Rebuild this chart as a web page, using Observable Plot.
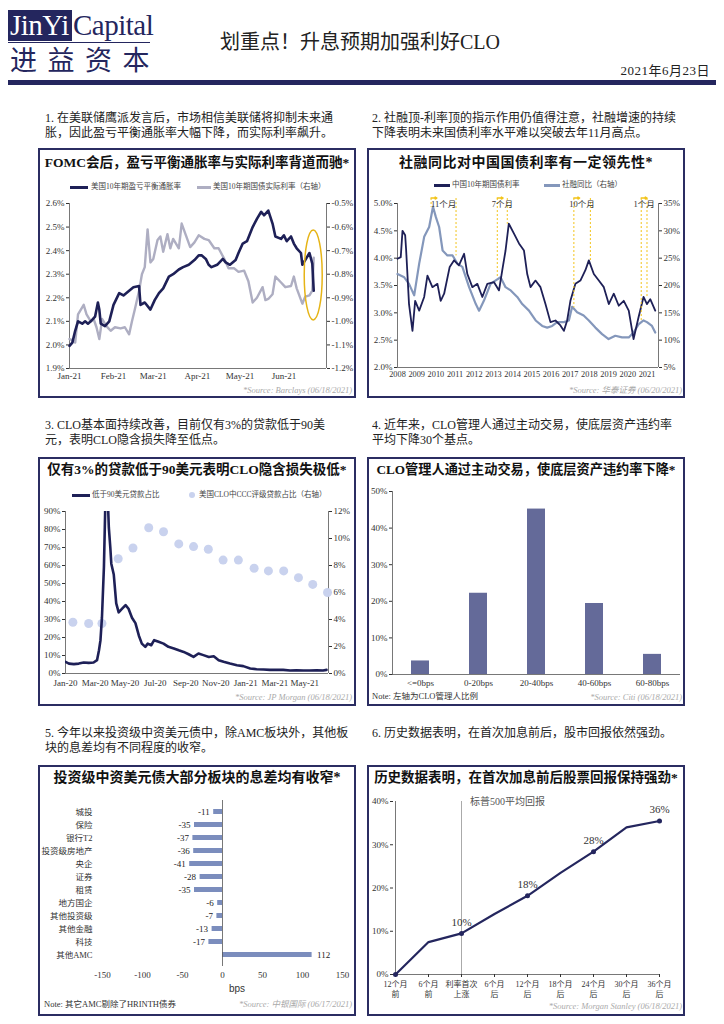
<!DOCTYPE html>
<html><head><meta charset="utf-8">
<script src="https://cdn.jsdelivr.net/npm/d3@7"></script>
<script src="https://cdn.jsdelivr.net/npm/@observablehq/plot@0.6"></script>
<style>
body{margin:0;background:#fff;}
#page{position:relative;width:724px;height:1024px;overflow:hidden;background:#fff;font-family:"Liberation Serif","Noto Sans CJK SC",serif;color:#222;}
.abs{position:absolute;white-space:nowrap;}
.box{position:absolute;border:2px solid #2b2d62;box-sizing:border-box;}
.ptitle{position:absolute;font-weight:700;font-size:13.5px;line-height:18px;text-align:center;white-space:nowrap;color:#111;}
.leg{position:absolute;font-size:7.5px;line-height:10px;color:#444;white-space:nowrap;}
.src{position:absolute;font-style:italic;font-size:8.5px;line-height:10px;color:#aaa;white-space:nowrap;text-align:right;}
.note{position:absolute;font-size:8.5px;line-height:10px;color:#333;white-space:nowrap;}
.para{position:absolute;font-size:12px;line-height:15px;color:#222;}
.para div{white-space:nowrap;}
</style></head>
<body><div id="page"></div>
<script>
// ---------------- DATA ----------------
// Panel 1: US 10Y breakeven (left) and 10Y real yield (right)
const p1BeDates=["2021-01-01","2021-01-03","2021-01-05","2021-01-07","2021-01-10","2021-01-12","2021-01-14","2021-01-16","2021-01-19","2021-01-21","2021-01-22","2021-01-23","2021-01-26","2021-01-29","2021-02-01","2021-02-05","2021-02-08","2021-02-12","2021-02-15","2021-02-19","2021-02-20","2021-02-23","2021-02-27","2021-03-02","2021-03-05","2021-03-08","2021-03-12","2021-03-15","2021-03-19","2021-03-22","2021-03-26","2021-03-30","2021-04-02","2021-04-04","2021-04-07","2021-04-09","2021-04-11","2021-04-15","2021-04-19","2021-04-21","2021-04-24","2021-04-28","2021-04-30","2021-05-03","2021-05-06","2021-05-10","2021-05-13","2021-05-16","2021-05-18","2021-05-21","2021-05-24","2021-05-26","2021-05-30","2021-06-01","2021-06-03","2021-06-06","2021-06-08","2021-06-10","2021-06-13","2021-06-14","2021-06-16","2021-06-19","2021-06-21","2021-06-22"];
const p1BeValues=[1.996,2.01,2.06,2.10,2.09,2.10,2.09,2.10,2.12,2.18,2.15,2.09,2.08,2.10,2.17,2.22,2.21,2.23,2.245,2.25,2.17,2.18,2.15,2.19,2.22,2.24,2.29,2.30,2.32,2.33,2.34,2.36,2.38,2.38,2.365,2.34,2.33,2.34,2.365,2.35,2.34,2.36,2.39,2.43,2.44,2.50,2.535,2.565,2.55,2.57,2.515,2.46,2.45,2.465,2.44,2.46,2.43,2.41,2.39,2.34,2.36,2.39,2.345,2.23];
const p1RrDates=["2021-01-01","2021-01-03","2021-01-05","2021-01-07","2021-01-11","2021-01-13","2021-01-16","2021-01-18","2021-01-20","2021-01-22","2021-01-24","2021-01-27","2021-01-30","2021-02-02","2021-02-06","2021-02-09","2021-02-12","2021-02-14","2021-02-16","2021-02-19","2021-02-21","2021-02-23","2021-02-25","2021-02-27","2021-03-01","2021-03-04","2021-03-06","2021-03-08","2021-03-11","2021-03-13","2021-03-15","2021-03-19","2021-03-21","2021-03-24","2021-03-27","2021-03-30","2021-04-02","2021-04-06","2021-04-09","2021-04-13","2021-04-16","2021-04-20","2021-04-23","2021-04-27","2021-04-30","2021-05-04","2021-05-07","2021-05-10","2021-05-13","2021-05-17","2021-05-19","2021-05-21","2021-05-24","2021-05-26","2021-05-30","2021-06-02","2021-06-06","2021-06-08","2021-06-10","2021-06-14","2021-06-16","2021-06-19","2021-06-21","2021-06-22"];
const p1RrValues=[-1.075,-1.08,-1.09,-0.97,-0.93,-0.97,-1.00,-0.99,-1.025,-1.075,-0.99,-1.02,-1.04,-1.025,-1.03,-1.025,-1.055,-1.00,-0.95,-0.87,-0.80,-0.77,-0.61,-0.75,-0.735,-0.655,-0.64,-0.705,-0.63,-0.69,-0.65,-0.69,-0.585,-0.635,-0.685,-0.665,-0.635,-0.65,-0.655,-0.69,-0.69,-0.735,-0.775,-0.775,-0.79,-0.785,-0.83,-0.92,-0.90,-0.855,-0.91,-0.905,-0.885,-0.81,-0.835,-0.855,-0.85,-0.81,-0.86,-0.925,-0.895,-0.89,-0.87,-0.73];
const p1XDomain=["2021-01-01","2021-07-01"];
const p1XTicks=["2021-01-01","2021-02-01","2021-03-01","2021-04-01","2021-05-01","2021-06-01"];
const p1LeftTicks=[1.9,2.0,2.1,2.2,2.3,2.4,2.5,2.6];
const p1RightTicks=[-1.2,-1.1,-1.0,-0.9,-0.8,-0.7,-0.6,-0.5];
const p1Highlight={date:"2021-06-22",value:2.295};

// Panel 2: China 10Y yield (left) and TSF yoy (right)
const p2YieldX=[2008.0,2008.17,2008.26,2008.4,2008.45,2008.6,2008.78,2008.92,2009.13,2009.39,2009.56,2009.82,2010.08,2010.25,2010.43,2010.72,2010.95,2011.2,2011.47,2011.64,2011.9,2012.16,2012.42,2012.68,2013.03,2013.29,2013.46,2013.63,2013.8,2014.07,2014.33,2014.59,2014.76,2014.93,2015.19,2015.45,2015.71,2015.97,2016.23,2016.49,2016.67,2016.84,2017.01,2017.27,2017.53,2017.79,2017.97,2018.23,2018.49,2018.75,2019.01,2019.27,2019.53,2019.79,2020.05,2020.3,2020.56,2020.82,2021.0,2021.17,2021.43];
const p2YieldY=[3.99,4.02,4.5,4.42,4.15,3.16,2.67,3.22,3.04,3.29,3.68,3.47,3.53,3.22,3.35,3.84,3.96,3.87,4.08,3.71,3.47,3.53,3.29,3.53,3.56,3.41,3.78,4.14,4.63,4.45,4.27,4.14,3.71,3.47,3.59,3.47,3.16,2.83,2.86,2.77,2.67,2.86,3.22,3.53,3.59,3.78,3.96,3.71,3.59,3.47,3.16,3.35,3.13,3.22,3.04,2.52,2.92,3.29,3.16,3.25,3.04];
const p2SfX=[2008.0,2008.35,2008.6,2008.87,2009.13,2009.39,2009.65,2009.85,2010.0,2010.17,2010.35,2010.6,2010.87,2011.12,2011.38,2011.73,2012.08,2012.25,2012.5,2012.85,2013.1,2013.37,2013.63,2013.9,2014.24,2014.5,2014.85,2015.2,2015.54,2015.8,2016.06,2016.32,2016.67,2016.93,2017.1,2017.36,2017.7,2017.97,2018.31,2018.66,2019.0,2019.35,2019.7,2020.05,2020.3,2020.56,2020.82,2021.0,2021.26,2021.43];
const p2SfY=[22.1,21.5,20.3,18.2,24,28.9,30.7,34.4,32.5,30.7,26.4,25.5,25.5,24,23.4,19.7,16.6,15.4,17.2,20.3,20.9,21.5,19.7,19.1,17.9,16.6,15.4,13.6,12.6,12.3,12.6,13.3,13.3,13.6,16.1,15.1,14.5,13.6,12.3,11.1,10.2,10.8,10.5,10.5,11.4,12.9,13.6,13.3,12.6,11.4];
const p2XDomain=[2008,2021.6];
const p2XTicks=[2008,2009,2010,2011,2012,2013,2014,2015,2016,2017,2018,2019,2020,2021];
const p2LeftTicks=[2.0,2.5,3.0,3.5,4.0,4.5,5.0];
const p2RightTicks=[5,10,15,20,25,30,35];
const p2AnnStart=[2009.75,2013.2,2017.19,2020.7];
const p2AnnEnd=[2011.05,2013.72,2018.05,2021.0];
const p2AnnStartLow=[4.94,3.65,3.10,2.86];
const p2AnnEndLow=[4.05,4.63,3.96,3.29];
const p2AnnLabel=["11个月","7个月","10个月","1个月"];
const p2AnnTop=5.1;
const p2AnnLabelY=4.98;

// Panel 3: share of loans below $90 (left) and CCC share (right)
const p3LineDates=["2020-01-01","2020-01-08","2020-01-18","2020-01-28","2020-02-07","2020-02-17","2020-02-27","2020-03-05","2020-03-09","2020-03-12","2020-03-15","2020-03-19","2020-03-22","2020-03-27","2020-03-29","2020-04-01","2020-04-03","2020-04-08","2020-04-13","2020-04-18","2020-04-25","2020-05-02","2020-05-08","2020-05-15","2020-05-22","2020-05-29","2020-06-04","2020-06-11","2020-06-16","2020-06-23","2020-06-29","2020-07-08","2020-07-18","2020-07-28","2020-08-08","2020-08-18","2020-08-28","2020-09-07","2020-09-17","2020-09-27","2020-10-07","2020-10-18","2020-10-28","2020-11-07","2020-11-17","2020-11-30","2020-12-14","2020-12-27","2021-01-10","2021-01-23","2021-02-06","2021-02-19","2021-03-05","2021-03-18","2021-04-01","2021-04-14","2021-04-28","2021-05-11","2021-05-25","2021-06-07","2021-06-14"];
const p3LineValues=[6.5,5.5,5.2,5.5,6.1,5.9,6.1,7.4,12.9,18.5,31,59,96,96,81,70,61,55,39,34,36,38,36,31,28,21,16.6,14.8,16.6,15.7,18.5,17.6,16.6,14.8,13.9,12.9,12.0,10.7,9.2,11.1,10.2,9.2,9.6,7.4,6.5,5.5,4.6,4.1,2.8,2.4,2.2,2.0,2.0,2.0,1.7,1.8,1.7,1.7,1.8,1.7,2.0];
const p3DotDates=["2020-01-16","2020-02-17","2020-03-15","2020-04-17","2020-05-17","2020-06-18","2020-07-18","2020-08-18","2020-09-17","2020-10-17","2020-11-16","2020-12-17","2021-01-18","2021-02-16","2021-03-19","2021-04-18","2021-05-17","2021-06-16"];
const p3DotValues=[3.8,3.7,3.7,8.5,9.3,10.8,10.5,9.6,9.4,9.2,8.4,8.4,7.8,7.6,7.6,7.1,6.6,6.0];
const p3XDomain=["2020-01-01","2021-06-18"];
const p3XTicks=["2020-01-01","2020-03-01","2020-05-01","2020-07-01","2020-09-01","2020-11-01","2021-01-01","2021-03-01","2021-05-01"];
const p3LeftTicks=[0,10,20,30,40,50,60,70,80,90];
const p3RightTicks=[0,2,4,6,8,10,12];

// Panel 4: distribution of CLO managers by default-rate reduction
const p4Cats=["<=0bps","0-20bps","20-40bps","40-60bps","60-80bps"];
const p4Values=[3.7,22.2,45.2,19.4,5.5];
const p4YTicks=[0,10,20,30,40,50];

// Panel 5: spread change by sector (bps)
const p5Cats=["城投","保险","银行T2","投资级房地产","央企","证券","租赁","地方国企","其他投资级","其他金融","科技","其他AMC"];
const p5Values=[-11,-35,-37,-36,-41,-28,-35,-6,-7,-13,-17,112];
const p5XTicks=[-150,-100,-50,0,50,100,150];

// Panel 6: S&P 500 average return around first hike
const p6Cats=["12个月\n前","6个月\n前","利率首次\n上涨","6个月\n后","12个月\n后","18个月\n后","24个月\n后","30个月\n后","36个月\n后"];
const p6Values=[0,7.5,9.5,14,18.2,23.5,28.4,34,35.5];
const p6Labels=["","","10%","","18%","","28%","","36%"];
const p6Marked=[true,false,true,false,true,false,true,false,true];
const p6YTicks=[0,10,20,30,40];
const p6HikeCat=p6Cats[2];

// ---------------- STYLE ----------------
const NAVY="#1e2057", GRAY="#aeaec2", SFBLUE="#8497bb", DOTC="#c9d2ee", BAR4="#646a99", BAR5="#7b8dbd", GOLD="#e6b416", YEL="#f2c318";
const SERIF='"Liberation Serif","Noto Sans CJK SC",serif';
const AX="#555";
const page=document.getElementById("page");
function add(html){page.insertAdjacentHTML("beforeend",html);}
function place(svg,left,top){svg.style.position="absolute";svg.style.left=left+"px";svg.style.top=top+"px";svg.style.overflow="visible";page.appendChild(svg);}
const baseStyle={fontFamily:SERIF,fontSize:"9px",color:"#333",background:"none",overflow:"visible"};
const pct1=d=>(Math.round(d*10)/10).toFixed(1)+"%";
const pct0=d=>Math.round(d)+"%";

// ---------------- HEADER ----------------
add(`<div class="abs" style="left:8px;top:10px;width:64px;height:31px;background:#24265e;"></div>
<div class="abs" style="left:10px;top:8px;font-size:29px;line-height:34px;color:#fff;font-family:'Liberation Serif';letter-spacing:-0.5px;">JinYi</div>
<div class="abs" style="left:73px;top:8px;font-size:29px;line-height:34px;color:#24265e;font-family:'Liberation Serif';letter-spacing:-0.5px;">Capital</div>
<div class="abs" style="left:8px;top:42px;width:142px;height:1px;background:#24265e;"></div>
<div class="abs" style="left:10px;top:43px;font-size:27px;line-height:32px;color:#24265e;letter-spacing:10.5px;font-family:'Noto Sans CJK SC';">进益资本</div>
<div class="abs" style="left:160px;width:400px;top:30px;text-align:center;font-size:20px;line-height:24px;color:#222;">划重点！升息预期加强利好CLO</div>
<div class="abs" style="right:14px;top:63px;font-size:13px;line-height:16px;color:#222;letter-spacing:0.5px;">2021年6月23日</div>
<div class="abs" style="left:8px;top:80px;width:708px;height:5px;background:#24265e;"></div>`);

// ---------------- PARAGRAPHS ----------------
add(`<div class="para" style="left:45px;top:111px;"><div>1. 在美联储鹰派发言后，市场相信美联储将抑制未来通</div><div>胀，因此盈亏平衡通胀率大幅下降，而实际利率飙升。</div></div>
<div class="para" style="left:372px;top:111px;"><div>2. 社融顶-利率顶的指示作用仍值得注意，社融增速的持续</div><div>下降表明未来国债利率水平难以突破去年11月高点。</div></div>
<div class="para" style="left:45px;top:418px;"><div>3. CLO基本面持续改善，目前仅有3%的贷款低于90美</div><div>元，表明CLO隐含损失降至低点。</div></div>
<div class="para" style="left:372px;top:418px;"><div>4. 近年来，CLO管理人通过主动交易，使底层资产违约率</div><div>平均下降30个基点。</div></div>
<div class="para" style="left:45px;top:726px;"><div>5. 今年以来投资级中资美元债中，除AMC板块外，其他板</div><div>块的息差均有不同程度的收窄。</div></div>
<div class="para" style="left:372px;top:726px;"><div>6. 历史数据表明，在首次加息前后，股市回报依然强劲。</div></div>`);

// ---------------- BOXES, TITLES, LEGENDS, SOURCES ----------------
add(`<div class="box" style="left:38px;top:148px;width:318px;height:250px;"></div>
<div class="box" style="left:367px;top:148px;width:318px;height:250px;"></div>
<div class="box" style="left:38px;top:457px;width:318px;height:249px;"></div>
<div class="box" style="left:367px;top:457px;width:318px;height:249px;"></div>
<div class="box" style="left:38px;top:765px;width:318px;height:251px;"></div>
<div class="box" style="left:367px;top:765px;width:318px;height:251px;"></div>

<div class="ptitle" style="left:38px;width:318px;top:154px;">FOMC会后，盈亏平衡通胀率与实际利率背道而驰*</div>
<div class="ptitle" style="left:367px;width:318px;top:154px;font-size:14px;letter-spacing:0.5px;">社融同比对中国国债利率有一定领先性*</div>
<div class="ptitle" style="left:38px;width:318px;top:461px;">仅有3%的贷款低于90美元表明CLO隐含损失极低*</div>
<div class="ptitle" style="left:367px;width:318px;top:461px;font-size:13.2px;">CLO管理人通过主动交易，使底层资产违约率下降*</div>
<div class="ptitle" style="left:38px;width:318px;top:769px;font-size:14px;">投资级中资美元债大部分板块的息差均有收窄*</div>
<div class="ptitle" style="left:367px;width:318px;top:769px;">历史数据表明，在首次加息前后股票回报保持强劲*</div>

<div class="abs" style="left:70px;top:186px;width:18px;height:3px;background:${NAVY};"></div>
<div class="leg" style="left:91px;top:182px;">美国10年期盈亏平衡通胀率</div>
<div class="abs" style="left:197px;top:186px;width:14px;height:3px;background:${GRAY};"></div>
<div class="leg" style="left:213px;top:182px;">美国10年期国债实际利率（右轴）</div>

<div class="abs" style="left:434px;top:184px;width:16px;height:3px;background:${NAVY};"></div>
<div class="leg" style="left:452px;top:180px;">中国10年期国债利率</div>
<div class="abs" style="left:544px;top:184px;width:16px;height:3px;background:${SFBLUE};"></div>
<div class="leg" style="left:562px;top:180px;">社融同比（右轴）</div>

<div class="abs" style="left:72px;top:494px;width:18px;height:3px;background:${NAVY};"></div>
<div class="leg" style="left:92px;top:490px;">低于90美元贷款占比</div>
<div class="abs" style="left:189px;top:492px;width:6px;height:6px;border-radius:3px;background:${DOTC};"></div>
<div class="leg" style="left:199px;top:490px;">美国CLO中CCC评级贷款占比（右轴）</div>

<div class="abs" style="left:470px;top:796px;font-size:10px;line-height:12px;color:#555;">标普500平均回报</div>
<div class="abs" style="left:229px;top:983px;font-size:10px;line-height:12px;color:#333;font-family:'Liberation Sans';">bps</div>

<div class="src" style="right:372px;top:385px;">*Source: Barclays (06/18/2021)</div>
<div class="src" style="right:42px;top:385px;">*Source: 华泰证券 (06/20/2021)</div>
<div class="src" style="right:372px;top:692px;">*Source: JP Morgan (06/18/2021)</div>
<div class="src" style="right:42px;top:692px;">*Source: Citi (06/18/2021)</div>
<div class="note" style="left:372px;top:691px;">Note: 左轴为CLO管理人比例</div>
<div class="src" style="right:372px;top:999px;">*Source: 中银国际 (06/17/2021)</div>
<div class="note" style="left:44px;top:999px;">Note: 其它AMC剔除了HRINTH债券</div>
<div class="src" style="right:42px;top:1001px;">*Source: Morgan Stanley (06/18/2021)</div>`);

// ---------------- PANEL 1 ----------------
{
  const be=p1BeDates.map((d,i)=>({date:new Date(d),v:p1BeValues[i]}));
  const rr=p1RrDates.map((d,i)=>({date:new Date(d),v:p1RrValues[i]}));
  const off=p1LeftTicks[0]-p1RightTicks[0];
  const toL=v=>v+off;
  const dom=p1XDomain.map(d=>new Date(d));
  const svg=Plot.plot({
    width:313,height:190,marginLeft:29,marginRight:27,marginTop:8,marginBottom:17,
    style:baseStyle,
    x:{type:"utc",domain:dom},
    y:{domain:[p1LeftTicks[0],p1LeftTicks[p1LeftTicks.length-1]]},
    marks:[
      Plot.ruleX(dom,{stroke:AX,strokeWidth:0.8}),
      Plot.ruleY([p1LeftTicks[0]],{stroke:AX,strokeWidth:0.8}),
      Plot.axisX({ticks:p1XTicks.map(d=>new Date(d)),tickFormat:d3.utcFormat("%b-%y"),tickSize:0,tickPadding:4,label:null}),
      Plot.axisY({ticks:p1LeftTicks,tickFormat:pct1,tickSize:3,tickPadding:2,label:null}),
      Plot.axisY({anchor:"right",ticks:p1RightTicks.map(toL),tickFormat:v=>pct1(v-off),tickSize:3,tickPadding:2,label:null}),
      Plot.line(rr,{x:"date",y:d=>toL(d.v),stroke:GRAY,strokeWidth:2.4}),
      Plot.line(be,{x:"date",y:"v",stroke:NAVY,strokeWidth:2.6}),
      (index,scales)=>{
        const e=document.createElementNS("http://www.w3.org/2000/svg","ellipse");
        e.setAttribute("cx",scales.x(new Date(p1Highlight.date)));
        e.setAttribute("cy",scales.y(p1Highlight.value));
        e.setAttribute("rx",9);e.setAttribute("ry",45);
        e.setAttribute("fill","none");e.setAttribute("stroke",GOLD);e.setAttribute("stroke-width",1.5);
        return e;
      }
    ]
  });
  place(svg,40,195);
}

// ---------------- PANEL 2 ----------------
{
  const yld=p2YieldX.map((x,i)=>({x,v:p2YieldY[i]}));
  const sf=p2SfX.map((x,i)=>({x,v:p2SfY[i]}));
  const l0=p2LeftTicks[0],l1=p2LeftTicks[p2LeftTicks.length-1],r0=p2RightTicks[0],r1=p2RightTicks[p2RightTicks.length-1];
  const toL=v=>l0+(v-r0)*(l1-l0)/(r1-r0);
  const toR=v=>r0+(v-l0)*(r1-r0)/(l1-l0);
  const ann=p2AnnStart.map((s,i)=>({s,e:p2AnnEnd[i],sl:p2AnnStartLow[i],el:p2AnnEndLow[i],label:p2AnnLabel[i]}));
  const svg=Plot.plot({
    width:314,height:190,marginLeft:28,marginRight:25,marginTop:8,marginBottom:18,
    style:baseStyle,
    x:{domain:p2XDomain},
    y:{domain:[l0,l1]},
    marks:[
      Plot.ruleX(p2XDomain,{stroke:AX,strokeWidth:0.8}),
      Plot.ruleY([l0],{stroke:AX,strokeWidth:0.8}),
      Plot.axisX({ticks:p2XTicks,tickFormat:d=>String(d),tickSize:0,tickPadding:4,fontSize:8.3,label:null}),
      Plot.axisY({ticks:p2LeftTicks,tickFormat:pct1,tickSize:3,tickPadding:2,label:null}),
      Plot.axisY({anchor:"right",ticks:p2RightTicks.map(toL),tickFormat:v=>pct0(toR(v)),tickSize:3,tickPadding:2,label:null}),
      Plot.line(sf,{x:"x",y:d=>toL(d.v),stroke:SFBLUE,strokeWidth:2.2}),
      Plot.line(yld,{x:"x",y:"v",stroke:NAVY,strokeWidth:1.8}),
      Plot.link(ann,{x1:"s",x2:"s",y1:p2AnnTop,y2:"sl",stroke:YEL,strokeWidth:1,strokeDasharray:"2,2"}),
      Plot.link(ann,{x1:"e",x2:"e",y1:p2AnnTop,y2:"el",stroke:YEL,strokeWidth:1,strokeDasharray:"2,2"}),
      Plot.arrow(ann,{x1:"s",x2:d=>d.s+0.3,y1:p2AnnTop,y2:p2AnnTop,stroke:YEL,strokeWidth:1.5,headLength:5}),
      Plot.text(ann,{x:d=>(d.s+d.e)/2,y:p2AnnLabelY,text:"label",fontSize:8.5,fill:"#333"})
    ]
  });
  place(svg,369,195);
}

// ---------------- PANEL 3 ----------------
{
  const ln=p3LineDates.map((d,i)=>({date:new Date(d),v:p3LineValues[i]}));
  const dots=p3DotDates.map((d,i)=>({date:new Date(d),v:p3DotValues[i]}));
  const l1=p3LeftTicks[p3LeftTicks.length-1], r1=p3RightTicks[p3RightTicks.length-1];
  const toL=v=>v*l1/r1, toR=v=>v*r1/l1;
  const dom=p3XDomain.map(d=>new Date(d));
  const svg=Plot.plot({
    width:313,height:185,marginLeft:25,marginRight:25,marginTop:6,marginBottom:17,
    style:baseStyle,
    x:{type:"utc",domain:dom},
    y:{domain:[0,l1]},
    marks:[
      Plot.ruleX(dom,{stroke:AX,strokeWidth:0.8}),
      Plot.ruleY([0],{stroke:AX,strokeWidth:0.8}),
      Plot.axisX({ticks:p3XTicks.map(d=>new Date(d)),tickFormat:d3.utcFormat("%b-%y"),tickSize:0,tickPadding:6,label:null}),
      Plot.axisY({ticks:p3LeftTicks,tickFormat:pct0,tickSize:3,tickPadding:2,label:null}),
      Plot.axisY({anchor:"right",ticks:p3RightTicks.map(toL),tickFormat:v=>pct0(toR(v)),tickSize:3,tickPadding:2,label:null}),
      Plot.dot(dots,{x:"date",y:d=>toL(d.v),r:4.5,fill:DOTC,stroke:"none"}),
      Plot.line(ln,{x:"date",y:"v",stroke:NAVY,strokeWidth:2.6,clip:true})
    ]
  });
  place(svg,40,505);
}

// ---------------- PANEL 4 ----------------
{
  const data=p4Cats.map((c,i)=>({c,v:p4Values[i]}));
  const svg=Plot.plot({
    width:314,height:207,marginLeft:23,marginRight:3,marginTop:8,marginBottom:16,
    style:baseStyle,
    x:{domain:p4Cats,paddingInner:0.69,paddingOuter:0.31},
    y:{domain:[0,p4YTicks[p4YTicks.length-1]]},
    marks:[
      Plot.barY(data,{x:"c",y:"v",fill:BAR4}),
      Plot.ruleY([0],{stroke:AX,strokeWidth:0.8}),
      Plot.axisY({ticks:p4YTicks,tickFormat:pct0,tickSize:3,tickPadding:2,label:null}),
      Plot.axisX({tickSize:0,tickPadding:5,label:null}),
      Plot.frame({anchor:"left",stroke:AX,strokeWidth:0.8})
    ]
  });
  place(svg,369,483);
}

// ---------------- PANEL 5 ----------------
{
  const data=p5Cats.map((c,i)=>({c,v:p5Values[i]}));
  const svg=Plot.plot({
    width:313,height:200,marginLeft:62,marginRight:11,marginTop:5,marginBottom:29,
    style:baseStyle,
    x:{domain:[p5XTicks[0],p5XTicks[p5XTicks.length-1]]},
    y:{domain:p5Cats,paddingInner:0.62,paddingOuter:0.31},
    marks:[
      Plot.barX(data,{y:"c",x:"v",fill:BAR5}),
      Plot.ruleX([0],{stroke:AX,strokeWidth:0.8}),
      Plot.axisY({tickSize:0,tickPadding:10,fontSize:8.5,label:null}),
      Plot.axisX({ticks:p5XTicks,tickFormat:d=>String(d),tickSize:0,tickPadding:5,label:null}),
      Plot.text(data.filter(d=>d.v<0),{y:"c",x:"v",text:d=>String(d.v),textAnchor:"end",dx:-4,fontSize:9,fill:"#222"}),
      Plot.text(data.filter(d=>d.v>=0),{y:"c",x:"v",text:d=>String(d.v),textAnchor:"start",dx:5,fontSize:9,fill:"#222"})
    ]
  });
  place(svg,40,795);
}

// ---------------- PANEL 6 ----------------
{
  const data=p6Cats.map((c,i)=>({c,v:p6Values[i],label:p6Labels[i],m:p6Marked[i]}));
  const svg=Plot.plot({
    width:314,height:207,marginLeft:24,marginRight:23,marginTop:6,marginBottom:28,
    style:baseStyle,
    x:{type:"point",domain:p6Cats,padding:0},
    y:{domain:[0,p6YTicks[p6YTicks.length-1]]},
    marks:[
      Plot.ruleX([p6HikeCat],{stroke:"#aaa",strokeWidth:1}),
      Plot.ruleX([p6Cats[0]],{stroke:AX,strokeWidth:0.8}),
      Plot.ruleY([0],{stroke:AX,strokeWidth:0.8}),
      Plot.axisY({ticks:p6YTicks,tickFormat:pct0,tickSize:3,tickPadding:2,label:null}),
      Plot.axisX({tickSize:3,tickPadding:2,fontSize:8,lineHeight:1.3,label:null}),
      Plot.line(data,{x:"c",y:"v",stroke:"#24265e",strokeWidth:2.2}),
      Plot.dot(data.filter(d=>d.m),{x:"c",y:"v",r:2.5,fill:"#24265e"}),
      Plot.text(data.filter(d=>d.label),{x:"c",y:"v",text:"label",dy:-11,fontSize:11,fill:"#333"})
    ]
  });
  place(svg,369,795);
}
</script></body></html>
